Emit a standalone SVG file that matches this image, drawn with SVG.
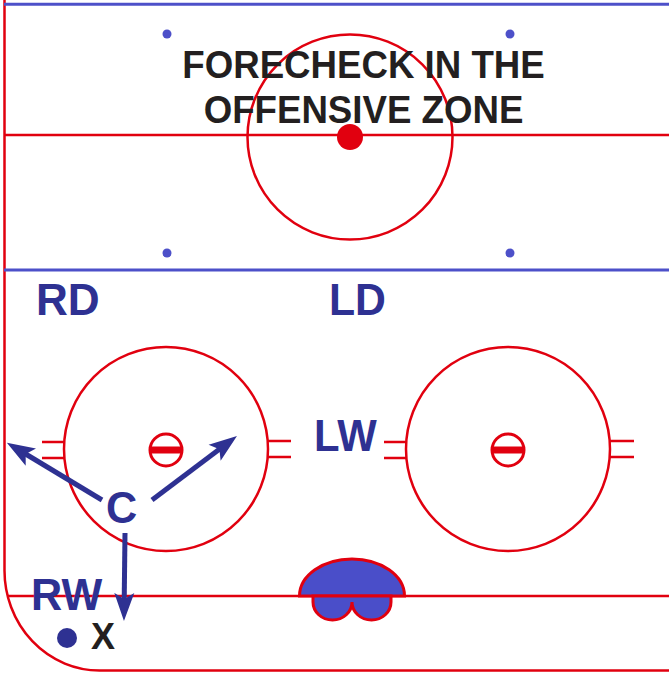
<svg xmlns="http://www.w3.org/2000/svg" width="669" height="675" viewBox="0 0 669 675">
<style>
.red{fill:none;stroke:#e1000f;stroke-width:2.5}
.blueline{fill:none;stroke:#4d50c9;stroke-width:3}
.bdot{fill:#4d50c9}
.lbl{font-family:"Liberation Sans",Arial,sans-serif;font-weight:bold;fill:#2e3192;font-size:45px}
.title{font-family:"Liberation Sans",Arial,sans-serif;font-weight:bold;fill:#231f20;font-size:39px;text-anchor:middle}
.arrow{fill:none;stroke:#2e3192;stroke-width:5}
</style>
<defs>
<marker id="ah" markerUnits="userSpaceOnUse" viewBox="0 -11 28 22" refX="8" refY="0" markerWidth="28" markerHeight="22" orient="auto">
<path d="M0,-10 L28,0 L0,10 L6,0 Z" fill="#2e3192"/>
</marker>
<g id="faceoffDot">
<circle cx="0" cy="0" r="16" fill="#fff" stroke="#e1000f" stroke-width="3"/>
<rect x="-15" y="-3.5" width="30" height="7" fill="#e1000f"/>
</g>
</defs>
<rect width="669" height="675" fill="#fff"/>
<g id="rink">
<path class="red" d="M4.5,0 V570 A95,100 0 0 0 100,670.5 H669"/>
<line class="blueline" x1="4" y1="4.2" x2="669" y2="4.2"/>
<line class="red" x1="4" y1="135" x2="669" y2="135"/>
<line class="blueline" x1="4" y1="270" x2="669" y2="270"/>
<line class="red" x1="7" y1="596" x2="669" y2="596"/>
<circle class="red" cx="350" cy="137" r="102.5"/>
<circle cx="350" cy="137" r="13" fill="#e1000f"/>
<circle class="bdot" cx="167" cy="34" r="4.5"/>
<circle class="bdot" cx="510" cy="34" r="4.5"/>
<circle class="bdot" cx="167" cy="253" r="4.5"/>
<circle class="bdot" cx="510" cy="253" r="4.5"/>
</g>
<g id="left-circle">
<circle class="red" cx="166" cy="449" r="102"/>
<path class="red" d="M42,442 H64 M42,458 H64 M268,441 H291 M268,457 H291"/>
<use href="#faceoffDot" x="166" y="450"/>
</g>
<g id="right-circle">
<circle class="red" cx="508" cy="449" r="102"/>
<path class="red" d="M384,442 H406 M384,458 H406 M610,441 H634 M610,457 H634"/>
<use href="#faceoffDot" x="508" y="450"/>
</g>
<g id="goal">
<path d="M299.5,596 A52.5,37 0 0 1 404.5,596 Z" fill="#4a4ec9" stroke="#e1000f" stroke-width="3"/>
<path d="M313,596 V602 A19.5,18 0 0 0 352,602 A19.5,18 0 0 0 391,602 V596 Z" fill="#4a4ec9" stroke="#e1000f" stroke-width="3"/>
</g>
<g id="title">
<text class="title" transform="translate(363.5,78) scale(0.94,1)">FORECHECK IN THE</text>
<text class="title" transform="translate(363.5,123) scale(0.94,1)">OFFENSIVE ZONE</text>
</g>
<g id="RD"><text class="lbl" transform="translate(36,315) scale(0.98,1)">RD</text></g>
<g id="LD"><text class="lbl" transform="translate(329,315) scale(0.95,1)">LD</text></g>
<g id="LW"><text class="lbl" transform="translate(314,451) scale(0.93,1)" font-size="47">LW</text></g>
<g id="C"><text class="lbl" transform="translate(106,523) scale(0.96,1)">C</text></g>
<g id="RW"><text class="lbl" transform="translate(31,610) scale(0.96,1)">RW</text></g>
<g id="puck">
<circle cx="67" cy="638" r="10" fill="#2e3192"/>
<text x="91" y="649" font-family="Liberation Sans,Arial,sans-serif" font-weight="bold" font-size="36" fill="#231f20">X</text>
</g>
<g id="connectors">
<line class="arrow" x1="102" y1="500" x2="24" y2="453" marker-end="url(#ah)"/>
<line class="arrow" x1="152" y1="500" x2="221" y2="448" marker-end="url(#ah)"/>
<line class="arrow" x1="125" y1="533" x2="124.2" y2="601" marker-end="url(#ah)"/>
</g>
</svg>
